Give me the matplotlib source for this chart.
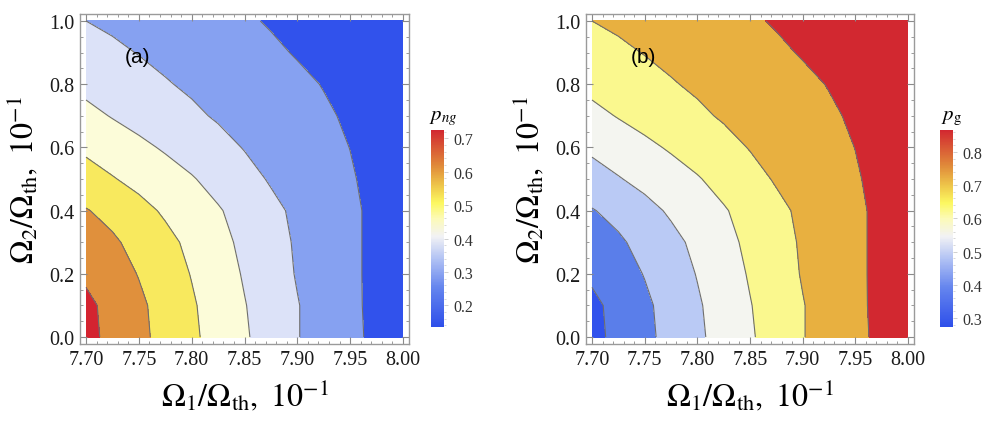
import numpy as np
import matplotlib
matplotlib.use('Agg')
import matplotlib.pyplot as plt
from matplotlib.colors import LinearSegmentedColormap, Normalize
from matplotlib.cm import ScalarMappable
from matplotlib.ticker import MultipleLocator

plt.rcParams['font.family'] = ['Liberation Serif', 'DejaVu Serif']
plt.rcParams['mathtext.fontset'] = 'stix'

# grid: Omega1/Omega_th (x) and Omega2/Omega_th (y), in 10^-1
omega1 = [7.700, 7.725, 7.750, 7.775, 7.800, 7.825, 7.850, 7.875, 7.900, 7.925, 7.950, 7.975, 8.000]
omega2 = [0.0, 0.1, 0.2, 0.3, 0.4, 0.5, 0.6, 0.7, 0.8, 0.9, 1.0]

# p_ng, one row per omega2 value
p_ng = [
    [.727, .675, .623, .570, .517, .464, .411, .357, .304, .260, .216, .185, .160],
    [.720, .673, .618, .564, .511, .457, .404, .354, .304, .260, .217, .180, .155],
    [.685, .641, .596, .546, .496, .444, .392, .342, .294, .255, .216, .180, .150],
    [.645, .613, .572, .526, .478, .428, .380, .333, .290, .253, .216, .180, .150],
    [.605, .574, .530, .487, .448, .408, .365, .321, .283, .250, .216, .180, .150],
    [.545, .506, .472, .439, .407, .368, .329, .292, .263, .236, .208, .175, .145],
    [.480, .450, .420, .390, .358, .327, .296, .272, .248, .224, .199, .170, .145],
    [.425, .395, .368, .341, .315, .291, .271, .250, .230, .210, .190, .165, .140],
    [.375, .352, .329, .306, .287, .269, .251, .233, .215, .197, .180, .160, .140],
    [.335, .316, .297, .280, .263, .246, .229, .212, .195, .180, .165, .150, .138],
    [.300, .285, .270, .255, .239, .224, .209, .194, .180, .168, .155, .145, .135],
]

# p_g, one row per omega2 value
p_g = [
    [.273, .325, .377, .430, .483, .536, .589, .643, .696, .740, .784, .815, .840],
    [.280, .327, .382, .436, .489, .543, .596, .646, .696, .740, .783, .820, .845],
    [.315, .359, .404, .454, .504, .556, .608, .658, .706, .745, .784, .820, .850],
    [.355, .387, .428, .474, .522, .572, .620, .667, .710, .747, .784, .820, .850],
    [.395, .426, .470, .513, .552, .592, .635, .679, .717, .750, .784, .820, .850],
    [.455, .494, .528, .561, .593, .632, .671, .708, .737, .764, .792, .825, .855],
    [.520, .550, .580, .610, .642, .673, .704, .728, .752, .776, .801, .830, .855],
    [.575, .605, .632, .659, .685, .709, .729, .750, .770, .790, .810, .835, .860],
    [.625, .648, .671, .694, .713, .731, .749, .767, .785, .803, .820, .840, .860],
    [.665, .684, .703, .720, .737, .754, .771, .788, .805, .820, .835, .850, .862],
    [.700, .715, .730, .745, .761, .776, .791, .806, .820, .832, .845, .855, .865],
]

levels_a = [0.0, 0.2, 0.3, 0.4, 0.5, 0.6, 0.7, 1.0]
levels_b = [0.0, 0.3, 0.4, 0.5, 0.6, 0.7, 0.8, 1.0]
colors_a = ['#3152EC', '#86A1F1', '#DCE2F8', '#FCFCD9', '#F8E95E', '#E0903C', '#D42430']
colors_b = ['#3152EC', '#5A7EEA', '#BACAF5', '#F4F5F0', '#FAF88E', '#E8B040', '#D22830']
cbar_range_a = (0.135, 0.725)
cbar_range_b = (0.273, 0.866)

temp_map = LinearSegmentedColormap.from_list('temp', [
    (0.00, '#2E4FEA'), (0.20, '#6585EE'), (0.35, '#B4C4F4'), (0.46, '#F2F2F4'),
    (0.55, '#FCFAB8'), (0.63, '#FCF860'), (0.72, '#EEC54A'), (0.82, '#E08A3A'),
    (1.00, '#D22830')])

fig = plt.figure(figsize=(9.96, 4.31), dpi=100)

H = 431.0
W = 996.0
def rect(x0, y0, x1, y1):
    return [x0 / W, (H - y1) / H, (x1 - x0) / W, (y1 - y0) / H]

panels = [
    (rect(80, 15, 409, 345), rect(431, 131, 444, 328), p_ng, levels_a, colors_a,
     cbar_range_a, '(a)', r'$p_{ng}$', [0.2, 0.3, 0.4, 0.5, 0.6, 0.7]),
    (rect(586, 15, 914, 345), rect(940, 131, 953, 328), p_g, levels_b, colors_b,
     cbar_range_b, '(b)', r'$p_{\mathrm{g}}$', [0.3, 0.4, 0.5, 0.6, 0.7, 0.8]),
]

X, Y = np.meshgrid(omega1, omega2)
for ax_rect, cb_rect, z, levs, cols, crange, tag, ctitle, cticks in panels:
    ax = fig.add_axes(ax_rect)
    z = np.array(z)
    ax.contourf(X, Y, z, levels=levs, colors=cols)
    ax.contour(X, Y, z, levels=levs[1:-1], colors='#6e6e6e', linewidths=0.8)
    ax.set_xlim(7.6943, 8.0057)
    ax.set_ylim(-0.022, 1.022)
    ax.xaxis.set_major_locator(MultipleLocator(0.05))
    ax.xaxis.set_minor_locator(MultipleLocator(0.01))
    ax.yaxis.set_major_locator(MultipleLocator(0.2))
    ax.yaxis.set_minor_locator(MultipleLocator(0.05))
    ax.xaxis.set_major_formatter(matplotlib.ticker.FormatStrFormatter('%.2f'))
    ax.yaxis.set_major_formatter(matplotlib.ticker.FormatStrFormatter('%.1f'))
    ax.tick_params(which='both', direction='in', top=True, right=True, color='#8a8a8a',
                   labelsize=14.5, labelcolor='#1a1a1a')
    ax.tick_params(which='major', length=5, width=0.8, pad=4)
    ax.tick_params(which='minor', length=2.5, width=0.6)
    for s in ax.spines.values():
        s.set_color('#9a9a9a')
        s.set_linewidth(1.0)
    ax.set_xlabel(r'$\Omega_1/\Omega_{\mathrm{th}},\ 10^{-1}$', fontsize=23, labelpad=6)
    ax.set_ylabel(r'$\Omega_2/\Omega_{\mathrm{th}},\ 10^{-1}$', fontsize=23, labelpad=6)
    ax.text(7.749, 0.889, tag, fontsize=15, family='Liberation Sans', ha='center', va='center')

    cax = fig.add_axes(cb_rect)
    sm = ScalarMappable(norm=Normalize(*crange), cmap=temp_map)
    cb = fig.colorbar(sm, cax=cax)
    cb.outline.set_visible(False)
    cb.set_ticks(cticks)
    cb.ax.yaxis.set_minor_locator(MultipleLocator(0.02))
    cb.ax.tick_params(which='both', direction='out', color='#c8c8c8', labelsize=11.5,
                      labelcolor='#333333')
    cb.ax.tick_params(which='major', length=3, width=0.6)
    cb.ax.tick_params(which='minor', length=1.5, width=0.5)
    cb.ax.set_title(ctitle, fontsize=15, pad=8, x=0.9)

fig.savefig('out.png', dpi=100)
